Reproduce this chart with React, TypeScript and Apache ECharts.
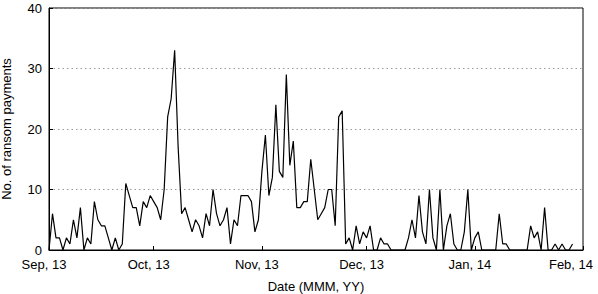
import React, { useEffect, useRef } from "react";
import * as echarts from "echarts";

// Daily ransom payment counts, starting 1 Sep 2013 (day index 0)
const dailyPayments: number[] = [
  0, 6, 2, 2, 0, 2, 1, 5, 2, 7,
  0, 2, 1, 8, 5, 4, 4, 2, 0, 2,
  0, 1, 11, 9, 7, 7, 4, 8, 7, 9,
  8, 7, 5, 10, 22, 25, 33, 17, 6, 7,
  5, 3, 5, 4, 2, 6, 4, 10, 6, 4,
  5, 7, 1, 5, 4, 9, 9, 9, 8, 3,
  5, 13, 19, 9, 12, 24, 13, 12, 29, 14,
  18, 7, 7, 8, 8, 15, 10, 5, 6, 7,
  10, 10, 4, 22, 23, 1, 2, 0, 4, 1,
  3, 2, 4, 0, 0, 2, 1, 1, 0, 0,
  0, 0, 0, 2, 5, 2, 9, 3, 1, 10,
  2, 0, 10, 0, 4, 6, 1, 0, 0, 3,
  10, 0, 2, 3, 0, 0, 0, 0, 0, 6,
  1, 1, 0, 0, 0, 0, 0, 0, 4, 2,
  3, 0, 7, 0, 0, 1, 0, 1, 0, 0,
  1,
];

// Month boundaries (days since 1 Sep 2013) and their labels
const monthStarts: number[] = [0, 30, 61, 91, 122, 153];
const monthLabels: string[] = ["Sep, 13", "Oct, 13", "Nov, 13", "Dec, 13", "Jan, 14", "Feb, 14"];

const yTicks: number[] = [0, 10, 20, 30, 40];

export default function App() {
  const ref = useRef<HTMLDivElement>(null);
  useEffect(() => {
    if (!ref.current) return;
    const chart = echarts.init(ref.current, null, { renderer: "svg" });
    const font = "Liberation Sans, Arial, sans-serif";
    const seriesData = dailyPayments.map((v, i) => [i, v]);
    const lastIdx = monthStarts.length - 1;
    chart.setOption({
      animation: false,
      textStyle: { fontFamily: font },
      grid: {
        left: 49,
        right: 15,
        top: 8,
        bottom: 44,
        show: true,
        borderColor: "#000",
        borderWidth: 1,
        containLabel: false,
        outerBoundsMode: "none",
      },
      xAxis: {
        type: "value",
        min: monthStarts[0],
        max: monthStarts[lastIdx],
        name: "Date (MMM, YY)",
        nameLocation: "middle",
        nameGap: 30,
        nameTextStyle: { fontSize: 13, color: "#000", fontFamily: font },
        axisLine: { lineStyle: { color: "#000", width: 1 } },
        axisTick: {
          show: true,
          inside: true,
          length: 4,
          customValues: monthStarts,
          lineStyle: { color: "#000" },
        },
        axisLabel: {
          customValues: monthStarts,
          fontSize: 13,
          color: "#000",
          margin: 8,
          padding: [0, 10, 0, 0],
          fontFamily: font,
          hideOverlap: false,
          formatter: (v: number) => {
            const i = monthStarts.indexOf(Math.round(v));
            if (i < 0) return "";
            return i === lastIdx ? `{last|${monthLabels[i]}}` : monthLabels[i];
          },
          rich: {
            last: { fontSize: 13, color: "#000", fontFamily: font, padding: [0, 14, 0, 0] },
          },
        },
        splitLine: { show: false },
      },
      yAxis: {
        type: "value",
        min: yTicks[0],
        max: yTicks[yTicks.length - 1],
        interval: 10,
        name: "No. of ransom payments",
        nameLocation: "middle",
        nameGap: 36,
        nameRotate: 90,
        nameTextStyle: { fontSize: 13, color: "#000", fontFamily: font },
        axisLine: { show: true, lineStyle: { color: "#000", width: 1 } },
        axisTick: { show: true, inside: true, length: 4, lineStyle: { color: "#000" } },
        axisLabel: { fontSize: 13, color: "#000", margin: 7, fontFamily: font },
        splitLine: {
          show: true,
          lineStyle: { color: "#999", type: [1.5, 3], width: 1 },
        },
      },
      series: [
        {
          type: "line",
          data: seriesData,
          showSymbol: false,
          symbol: "none",
          lineStyle: { color: "#000", width: 1.2 },
          z: 5,
        },
      ],
    });
    return () => chart.dispose();
  }, []);
  return <div ref={ref} style={{ width: 598, height: 294, position: "absolute", left: 0, top: 0 }} />;
}
